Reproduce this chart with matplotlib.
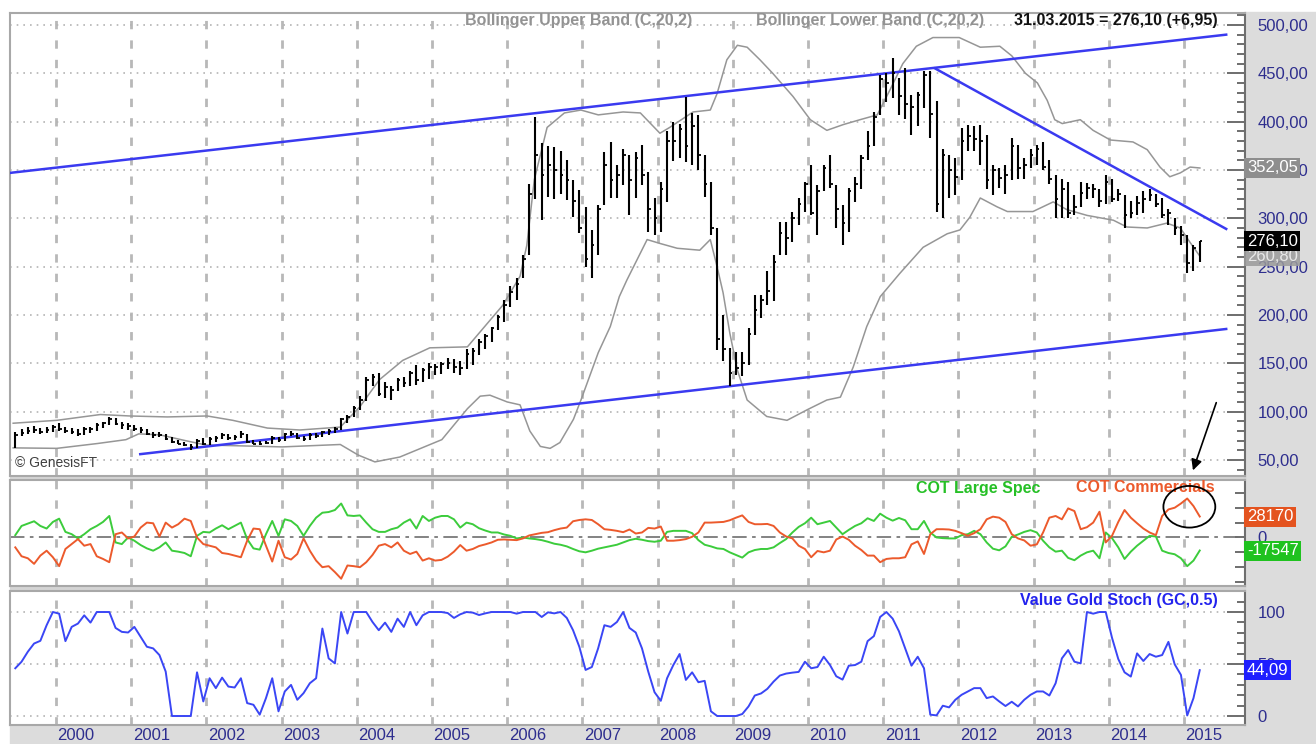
import numpy as np
import matplotlib
matplotlib.use('Agg')
import matplotlib.pyplot as plt
from matplotlib.patches import Ellipse, Rectangle
from matplotlib.ticker import FuncFormatter, MultipleLocator

plt.rcParams['font.family'] = ['Liberation Sans', 'DejaVu Sans']

# monthly copper bars, Jun 1999 .. Mar 2015
high_ = [
    79, 82, 84, 85, 83, 84, 86,                                  # 1999 (Jun-Dec)
    88, 84, 83, 82, 84, 84, 88, 89, 94, 93, 89, 88,              # 2000
    86, 84, 82, 79, 79, 77, 74, 71, 69, 66, 72, 73,              # 2001
    74, 75, 78, 77, 76, 80, 77, 71, 70, 70, 75, 74,              # 2002
    78, 80, 78, 75, 78, 78, 80, 82, 84, 93, 96, 106,             # 2003
    116, 136, 139, 140, 131, 127, 135, 136, 142, 148, 145, 150,  # 2004
    149, 151, 155, 154, 152, 165, 166, 175, 180, 188, 200, 215,  # 2005
    230, 238, 262, 336, 405, 378, 375, 374, 370, 360, 340, 329,  # 2006
    312, 288, 314, 369, 379, 355, 372, 365, 369, 376, 348, 321,  # 2007
    338, 390, 400, 398, 426, 409, 407, 365, 338, 290, 200, 166,  # 2008
    162, 162, 186, 221, 221, 245, 262, 296, 296, 307, 321, 338,  # 2009
    355, 334, 355, 365, 334, 314, 331, 343, 365, 390, 410, 448,  # 2010
    450, 466, 445, 455, 428, 431, 452, 452, 421, 372, 365, 362,  # 2011
    393, 397, 395, 397, 386, 355, 352, 355, 383, 376, 362, 372,  # 2012
    376, 379, 360, 345, 341, 338, 324, 338, 337, 336, 330, 345,  # 2013
    341, 330, 324, 318, 323, 328, 330, 325, 321, 310, 300, 292,  # 2014
    283, 272, 277,                                               # 2015 (Jan-Mar)
]
low_ = [
    62, 75, 77, 78, 77, 78, 79,
    80, 78, 77, 75, 76, 78, 80, 83, 86, 86, 82, 81,
    80, 78, 76, 73, 74, 71, 68, 66, 64, 60, 62, 65,
    65, 69, 72, 71, 71, 73, 68, 66, 65, 66, 67, 69,
    70, 75, 72, 70, 71, 73, 74, 76, 78, 81, 88, 94,
    102, 111, 126, 116, 114, 112, 121, 125, 126, 128, 131, 134,
    138, 139, 144, 140, 138, 144, 148, 159, 165, 172, 184, 193,
    208, 215, 238, 262, 320, 298, 322, 320, 325, 319, 301, 285,
    250, 238, 262, 314, 321, 321, 334, 303, 321, 334, 286, 283,
    286, 317, 359, 362, 358, 355, 350, 322, 283, 164, 152, 126,
    138, 137, 148, 179, 197, 210, 214, 262, 262, 275, 293, 307,
    303, 283, 328, 331, 290, 272, 286, 317, 330, 360, 375, 407,
    420, 424, 407, 403, 386, 395, 414, 383, 307, 300, 321, 324,
    340, 370, 370, 355, 330, 324, 331, 325, 340, 341, 341, 352,
    355, 350, 335, 300, 300, 300, 303, 312, 320, 321, 312, 315,
    317, 318, 290, 300, 303, 306, 318, 312, 300, 293, 283, 272,
    243, 245, 255,
]
close_ = [
    76, 78, 80, 81, 79, 81, 84,
    82, 80, 79, 77, 82, 82, 86, 88, 92, 87, 86, 85,
    82, 81, 77, 76, 76, 72, 69, 67, 65, 63, 70, 67,
    72, 73, 76, 73, 74, 77, 69, 67, 66, 68, 73, 71,
    77, 77, 73, 72, 76, 75, 79, 80, 82, 92, 94, 104,
    112, 133, 136, 118, 125, 122, 133, 130, 140, 133, 143, 146,
    146, 149, 150, 146, 145, 160, 163, 172, 178, 186, 198, 210,
    224, 232, 258, 325, 365, 345, 355, 350, 345, 340, 318, 290,
    258, 272, 310, 355, 340, 345, 365, 340, 362, 345, 310, 300,
    330, 380, 380, 392, 375, 395, 365, 335, 290, 175, 165, 140,
    145, 150, 180, 205, 215, 225, 255, 285, 280, 300, 315, 335,
    305, 328, 352, 335, 310, 295, 328, 335, 362, 375, 405, 444,
    440, 450, 427, 418, 415, 428, 448, 408, 315, 365, 350, 343,
    380, 385, 382, 380, 340, 350, 342, 345, 375, 352, 355, 365,
    372, 353, 341, 320, 330, 306, 312, 326, 331, 330, 318, 338,
    320, 325, 303, 305, 316, 320, 324, 315, 303, 306, 290, 283,
    254, 269, 276.10,
]

# Bollinger bands (C,20,2)
upper_t = [1999.43, 2000.01, 2000.59, 2000.98, 2001.48, 2002.01, 2002.35, 2002.81, 2003.24,
           2003.78, 2004.04, 2004.30, 2004.61, 2004.97, 2005.47, 2005.94, 2006.17, 2006.26,
           2006.36, 2006.53, 2006.76, 2006.98, 2007.21, 2007.54, 2007.77, 2008.03, 2008.16,
           2008.47, 2008.70, 2008.79, 2008.92, 2009.06, 2009.19, 2009.36, 2009.53, 2009.80,
           2010.03, 2010.25, 2010.47, 2010.69, 2010.92, 2011.09, 2011.26, 2011.44, 2011.66,
           2012.01, 2012.29, 2012.55, 2012.71, 2012.89, 2013.05, 2013.18, 2013.28, 2013.38,
           2013.62, 2013.79, 2014.02, 2014.32, 2014.51, 2014.68, 2014.81, 2014.95, 2015.08,
           2015.21]
upper_v = [88, 91, 97, 95.5, 94.5, 95.5, 91, 83, 81,
           84, 105, 133, 153, 166, 167, 210, 240, 272,
           340, 394, 409, 412, 407, 410, 409, 388, 394,
           410, 412, 429, 464, 479, 477, 464, 450, 426,
           402, 391, 397, 402, 407, 433, 460, 478, 487,
           487, 477, 478, 468, 450, 440, 422, 402, 398,
           402, 391, 381, 379, 371, 353, 343, 347, 353,
           352.05]
lower_t = [1999.43, 2000.01, 2000.55, 2000.93, 2001.10, 2001.38, 2001.72, 2001.99, 2003.01,
           2003.78, 2004.02, 2004.24, 2004.57, 2005.13, 2005.47, 2005.64, 2005.77, 2006.00,
           2006.17, 2006.30, 2006.44, 2006.57, 2006.70, 2006.88, 2006.98, 2007.21, 2007.37,
           2007.49, 2007.59, 2007.77, 2007.86, 2008.03, 2008.26, 2008.56, 2008.70, 2008.79,
           2008.87, 2008.96, 2009.06, 2009.19, 2009.45, 2009.72, 2009.99, 2010.25, 2010.43,
           2010.60, 2010.78, 2010.96, 2011.22, 2011.53, 2011.85, 2012.02, 2012.15, 2012.29,
           2012.51, 2012.65, 2012.99, 2013.26, 2013.44, 2013.71, 2014.06, 2014.24, 2014.51,
           2014.77, 2014.95, 2015.08, 2015.21]
lower_v = [62.5, 62, 67, 71, 77, 76, 70, 65.5, 63.5,
           66, 55, 48, 53, 71, 103, 116, 117, 110,
           107, 80, 64, 62, 68, 92, 112, 161, 188,
           219, 236, 264, 278, 274, 269, 267, 278, 250,
           223, 181, 143, 112, 95, 91, 102, 112, 115,
           146, 188, 219, 243, 270, 284, 288, 301, 321,
           312, 307, 307, 317, 309, 303, 298, 291, 290,
           295, 290, 275, 260.80]

# hand-drawn trend lines (start / end)
chan_up_t, chan_up_v = [1999.39, 2015.56], [347, 490]
chan_lo_t, chan_lo_v = [2001.12, 2015.56], [56, 185.5]
down_t, down_v = [2011.69, 2015.56], [455, 289]

# COT net positions, thousand contracts
cot_spec = [
    3.1, 15.5, 18.6, 21.8, 15.5, 12.0, 20.9,
    25.3, 7.5, 4.4, -1.3, 4.4, 11.1, 15.5, 20.9, 28.9, -6.7, -8.9, 0,
    -4.4, -10.2, -14.7, -17.8, -13.3, -6.7, -17.8, -19.1, -20.9, -25.3, 2.2, 7.5,
    6.7, 12.0, 16.4, 11.1, 15.5, 20.0, -2.2, -14.7, -16.4, 4.4, 22.2, 2.2,
    24.4, 22.2, 15.5, 2.2, 15.5, 26.6, 33.3, 34.2, 36.9, 45.7, 29.7, 28.9,
    29.7, 20.0, 11.1, 7.5, 7.5, 11.1, 13.3, 20.0, 24.4, 12.0, 28.9, 22.2,
    26.6, 28.9, 28.9, 24.4, 13.3, 20.0, 17.8, 12.4, 9.3, 6.7, 6.7, 4.0,
    2.2, -1.3, 0, -1.3, -2.2, -3.6, -5.8, -8.4, -9.8, -12.0, -15.5, -18.6,
    -20.0, -17.8, -15.1, -13.3, -11.5, -9.8, -6.7, -3.6, -1.8, -3.1, -4.9, -5.8,
    -4.4, 7.5, 8.9, 8.9, 8.9, 5.8, -3.6, -9.8, -12.0, -14.7, -15.5, -20.0,
    -23.5, -27.1, -20.0, -16.9, -15.5, -15.5, -13.3, -7.5, -2.2, 6.7, 14.2, 19.1,
    26.6, 17.8, 20.0, 22.2, 13.3, 4.4, 10.2, 15.5, 19.1, 25.8, 22.2, 32.0,
    26.6, 22.6, 26.2, 23.1, 11.1, 11.1, 22.2, 6.7, 0, -0.9, -1.3, -1.3,
    3.1, 4.4, 8.9, 4.4, -6.7, -15.1, -17.3, -12.0, 0.9, 4.0, 7.5, 9.8,
    6.7, -4.4, -13.3, -19.1, -17.8, -27.5, -30.6, -24.4, -20.0, -17.8, -28.0, 6.7,
    -0.9, -13.3, -28.9, -19.1, -11.1, -4.4, 2.2, 1.3, -17.8, -20.9, -22.6, -28.0,
    -38.6, -31.1, -17.547,
]
cot_comm = [
    -13.3, -25.3, -28.0, -35.5, -24.4, -17.8, -26.6,
    -38.6, -15.5, -8.9, -2.2, -11.1, -8.9, -25.3, -28.9, -33.3, 4.4, 6.7, -1.3,
    1.3, 13.3, 20.0, 19.1, 1.3, 20.0, 13.3, 17.8, 25.3, 22.2, 0, -8.9,
    -11.1, -13.3, -20.9, -22.2, -24.4, -26.6, -4.4, 12.0, 11.1, -11.1, -32.4, -4.4,
    -26.6, -29.7, -22.2, -1.3, -17.8, -31.1, -40.0, -38.6, -46.6, -55.5, -37.7, -38.6,
    -40.0, -33.3, -23.5, -11.1, -8.9, -13.3, -6.7, -17.8, -22.2, -19.1, -31.1, -28.0,
    -31.1, -30.2, -25.8, -19.1, -10.2, -17.8, -15.5, -11.5, -9.3, -6.7, -3.1, -2.7,
    -3.1, -3.6, -1.3, 2.7, 4.4, 6.2, 7.1, 9.8, 12.0, 13.3, 21.8, 23.5,
    24.4, 23.5, 17.8, 11.1, 10.2, 8.9, 7.1, 10.7, 5.3, 6.7, 12.9, 12.0,
    14.7, -4.4, -4.4, -3.6, -2.2, 0.9, 6.7, 20.0, 20.0, 20.4, 20.9, 23.1,
    26.6, 29.7, 20.9, 17.8, 17.8, 18.2, 15.5, 6.7, 1.3, -1.3, -11.1, -15.5,
    -26.6, -18.2, -20.0, -17.8, -2.7, 1.3, -3.1, -11.1, -16.9, -24.4, -24.4, -33.3,
    -28.9, -28.0, -28.0, -26.6, -9.3, -5.3, -22.2, 4.4, 11.1, 11.1, 10.7, 8.9,
    5.8, 2.2, 5.8, 11.1, 24.4, 28.0, 26.6, 20.9, 4.4, -1.3, -4.0, -11.1,
    -9.3, 6.7, 26.6, 28.9, 24.4, 39.1, 35.5, 11.1, 13.8, 20.0, 34.6, -6.7,
    2.2, 20.9, 36.9, 26.6, 19.1, 12.0, 6.7, 3.1, 28.9, 37.7, 40.0, 45.7,
    52.4, 42.2, 28.17,
]

# Value Gold Stoch (GC,0.5)
stoch = [
    45.9, 52.2, 61.8, 69.7, 72.3, 87.3, 100,
    98.4, 72.0, 85.7, 88.9, 96.8, 89.8, 100, 100, 100, 84.7, 80.9, 80.3,
    85.7, 76.1, 66.6, 65.0, 58.6, 42.7, 0, 0, 0, 0, 42.0, 14.0,
    36.3, 26.8, 36.9, 28.3, 27.4, 36.3, 12.4, 10.8, 1.3, 17.2, 36.3, 4.5,
    23.6, 29.9, 15.6, 22.0, 31.5, 36.3, 84.1, 55.4, 50.6, 100, 79.3, 100,
    100, 100, 90.4, 82.5, 89.8, 80.9, 93.6, 85.7, 100, 87.3, 96.8, 100,
    100, 100, 99.0, 94.3, 97.8, 100, 99.4, 97.1, 98.7, 100, 100, 100,
    100, 98.4, 100, 100, 100, 95.2, 99.7, 98.7, 100, 94.3, 82.5, 66.6,
    44.3, 47.1, 65.0, 87.3, 85.7, 90.4, 100, 84.7, 80.3, 65.0, 42.7, 22.9,
    14.6, 36.3, 49.0, 59.6, 34.7, 42.0, 32.5, 33.8, 4.5, 0, 0, 0,
    0, 1.9, 9.2, 19.7, 21.7, 26.1, 33.1, 38.9, 40.8, 41.7, 42.4, 52.2,
    45.9, 47.1, 57.0, 49.0, 38.2, 35.0, 48.4, 49.0, 52.2, 72.0, 76.8, 95.2,
    100, 93.6, 81.5, 65.0, 48.4, 57.0, 45.9, 1.3, 0.6, 9.9, 8.3, 15.6,
    20.4, 23.6, 26.8, 26.8, 17.2, 18.8, 14.0, 9.6, 13.7, 9.2, 15.6, 20.4,
    23.6, 23.6, 19.7, 31.5, 55.4, 63.4, 52.2, 50.6, 100, 98.4, 100, 100,
    75.2, 54.8, 42.0, 37.9, 60.2, 52.9, 59.6, 57.0, 58.6, 71.3, 49.7, 39.5,
    0.5, 17.2, 44.09,
]

years = list(range(2000, 2016))
months = 1999 + (np.arange(len(close_)) + 5.5) / 12

W, H = 1316, 744
fig = plt.figure(figsize=(W / 100, H / 100), dpi=100)
fig.patch.set_facecolor('white')

def px_rect(x0, y0, x1, y1, color):
    fig.add_artist(Rectangle((x0 / W, 1 - y1 / H), (x1 - x0) / W, (y1 - y0) / H,
                             transform=fig.transFigure, color=color, zorder=0))

# grey frame strips around the panels
px_rect(1245, 12, W, H, '#dcdcdc')
px_rect(10, 725, W, H, '#dcdcdc')
px_rect(10, 475, 1245, 480, '#d4d4d4')
px_rect(10, 585, 1245, 591, '#d4d4d4')

def px_axes(left, top, right, bottom):
    return fig.add_axes([left / W, 1 - bottom / H, (right - left) / W, (bottom - top) / H])

ax1 = px_axes(10, 13, 1245, 476)
ax2 = px_axes(10, 480, 1245, 586)
ax3 = px_axes(10, 591, 1245, 725)

xlim = (1999.388, 2015.81)
navy = '#2e2e8e'
comma2 = FuncFormatter(lambda v, p: f'{v:.2f}'.replace('.', ','))

for ax in (ax1, ax2, ax3):
    ax.set_xlim(*xlim)
    ax.set_xticks([])
    ax.yaxis.tick_right()
    for s in ax.spines.values():
        s.set_color('#a8a8a8')
        s.set_linewidth(1.5)
    ax.spines['right'].set_color('#6e6e6e')
    ax.tick_params(axis='y', which='both', direction='in', colors='#6e6e6e',
                   labelcolor=navy, labelsize=12, pad=9, width=1.4)
    ax.tick_params(axis='y', which='major', length=13)
    ax.tick_params(axis='y', which='minor', length=6)
    for y in years:
        ax.axvline(y, color='#b8b8b8', lw=2, ls=(0, (3, 4)), zorder=1)

# ---- price panel
ax1.set_ylim(33.4, 512.4)
ax1.yaxis.set_major_locator(MultipleLocator(50))
ax1.yaxis.set_minor_locator(MultipleLocator(10))
ax1.yaxis.set_major_formatter(comma2)
for v in range(50, 501, 50):
    ax1.axhline(v, color='#b4b4b4', lw=1.2, ls=(0, (1, 3)), zorder=1)

ax1.plot(upper_t, upper_v, color='#969696', lw=1.1, zorder=2)
ax1.plot(lower_t, lower_v, color='#969696', lw=1.1, zorder=2)
ax1.plot(chan_up_t, chan_up_v, color='#3a3af0', lw=1.8, zorder=3)
ax1.plot(chan_lo_t, chan_lo_v, color='#3a3af0', lw=1.8, zorder=3)
ax1.plot(down_t, down_v, color='#3a3af0', lw=1.8, zorder=3)
ax1.vlines(months, low_, high_, color='black', lw=1.5, zorder=4)
ax1.hlines(close_, months, months + 0.035, color='black', lw=1.3, zorder=4)

ax1.text(0.004, 0.028, '\u00a9 GenesisFT', transform=ax1.transAxes, fontsize=10,
         color='#404040', ha='left', va='center')
fig.text(465 / W, 1 - 21 / H, 'Bollinger Upper Band (C,20,2)', color='#939393',
         fontsize=11.5, fontweight='bold', ha='left', va='center')
fig.text(984 / W, 1 - 21 / H, 'Bollinger Lower Band (C,20,2)', color='#939393',
         fontsize=11.5, fontweight='bold', ha='right', va='center')
fig.text(1218 / W, 1 - 21 / H, '31.03.2015 = 276,10 (+6,95)', color='#111111',
         fontsize=11.5, fontweight='bold', ha='right', va='center')

def value_box(ax, v, txt, fc, tc='white', alpha=1.0):
    ax.text(1.0015, v, txt, transform=ax.get_yaxis_transform(), fontsize=12, color=tc,
            ha='left', va='center', clip_on=False, zorder=10,
            bbox=dict(facecolor=fc, edgecolor='none', pad=1.8, alpha=alpha))

value_box(ax1, upper_v[-1], f'{upper_v[-1]:.2f}'.replace('.', ','), '#8e8e8e')
value_box(ax1, lower_v[-1], f'{lower_v[-1]:.2f}'.replace('.', ','), '#9a9a9a', '#e8e8e8', 0.85)
value_box(ax1, close_[-1], f'{close_[-1]:.2f}'.replace('.', ','), '#000000')

ax1.annotate('', xy=(2015.106, 36.5), xytext=(2015.44, 112),
             arrowprops=dict(arrowstyle='-|>', color='black', lw=1.2, mutation_scale=16),
             annotation_clip=False, zorder=6)

# ---- COT panel
ax2.set_ylim(-65.3, 77.3)
ax2.set_yticks([-60, -40, -20, 0, 20, 40, 60])
ax2.set_yticklabels(['', '', '', '0', '', '', ''])
ax2.tick_params(axis='y', which='major', length=7)
ax2.axhline(0, color='#7a7a7a', lw=1.3, ls=(0, (8, 3, 2, 3)), zorder=1)
ax2.plot(months, cot_spec, color='#3ccc3c', lw=1.4, zorder=3)
ax2.plot(months, cot_comm, color='#ec5a2c', lw=1.4, zorder=3)
ax2.text(1040 / W, 1 - 488 / H, 'COT Large Spec', transform=fig.transFigure, fontsize=11.5,
         fontweight='bold', color='#26c026', ha='right', va='center')
ax2.text(1215 / W, 1 - 488 / H, 'COT Commercials', transform=fig.transFigure, fontsize=11.5,
         fontweight='bold', color='#ec5a2c', ha='right', va='center')
ax2.add_patch(Ellipse((2015.07, 41.3), 0.69, 56, fill=False, ec='black', lw=1.3,
                      clip_on=False, zorder=6))
value_box(ax2, cot_comm[-1], f'{cot_comm[-1] * 1000:.0f}', '#e4531f')
value_box(ax2, cot_spec[-1], f'{cot_spec[-1] * 1000:.0f}', '#1fc21f')

# ---- stoch panel
ax3.set_ylim(-8.65, 120.2)
ax3.set_yticks([0, 50, 100])
ax3.yaxis.set_minor_locator(MultipleLocator(10))
for v in (0, 50, 100):
    ax3.axhline(v, color='#b4b4b4', lw=1.2, ls=(0, (1, 3)), zorder=1)
ax3.plot(months, stoch, color='#3a46f5', lw=1.4, zorder=3)
ax3.text(1218 / W, 1 - 600 / H, 'Value Gold Stoch (GC,0.5)', transform=fig.transFigure,
         fontsize=11.5, fontweight='bold', color='#2323ee', ha='right', va='center')
value_box(ax3, stoch[-1], f'{stoch[-1]:.2f}'.replace('.', ','), '#1f1fff')

for y in years:
    ax3.text(y + 0.02, -0.075, str(y), transform=ax3.get_xaxis_transform(), fontsize=12,
             color=navy, ha='left', va='center', clip_on=False)

fig.savefig('out.png', dpi=100)
